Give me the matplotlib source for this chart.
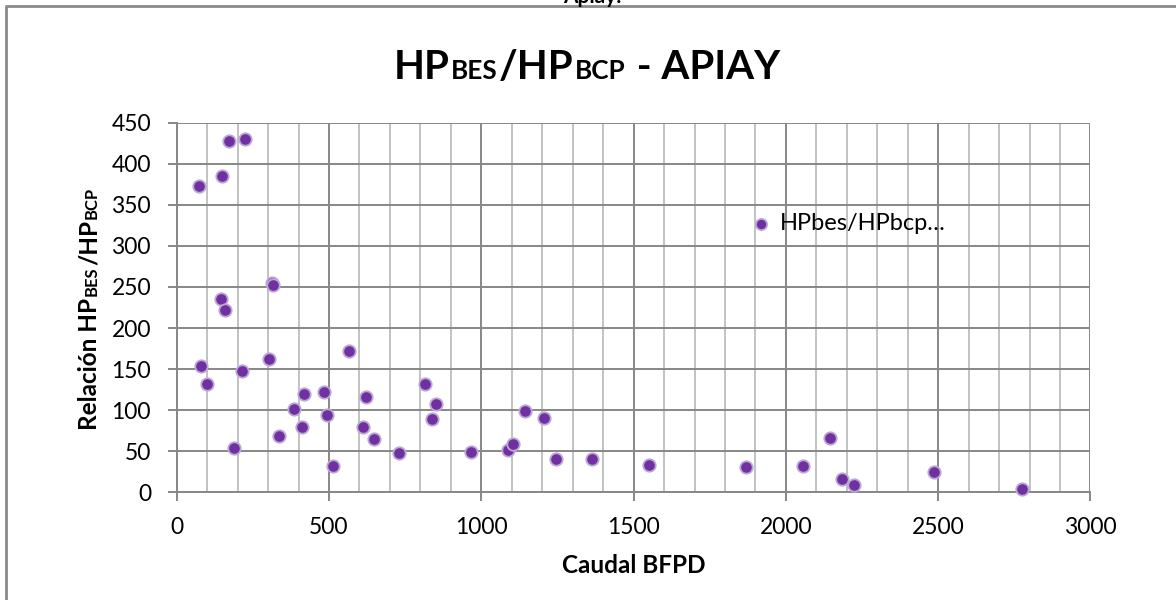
import matplotlib
matplotlib.use("Agg")
import matplotlib.pyplot as plt
from matplotlib.lines import Line2D
from matplotlib.ticker import MultipleLocator

# Caudal (BFPD) vs. HP ratio for the Apiay wells
caudal_bfpd = [74, 147.6, 172.7, 224, 311.8, 317, 144.4, 159.6, 79.8, 99.5,
               213.3, 304, 188, 564.5, 386, 416.8, 411, 335.8, 484.5, 494.4,
               513, 620, 612.5, 648.6, 730.7, 814, 851, 837, 965, 1088.5,
               1104, 1143, 1204.6, 1245, 1364, 1551, 1869.6, 2056.7, 2144,
               2182.6, 2225, 2486.6, 2774.5]
relacion_hp = [372.6, 385, 428, 430, 254.8, 252, 235, 222.4, 154.2, 131.5,
               147.7, 162.3, 53.6, 172, 101, 119.3, 80, 68.5, 122, 94.5,
               32.4, 116, 80, 65.3, 47.8, 131.9, 107.9, 88.9, 49.5, 52,
               59.2, 98.6, 90.5, 40.2, 41, 33.2, 31.2, 32.4, 66.1,
               16.6, 9.3, 24.7, 4.4]
series_label = "HPbes/HPbcp\u2026"
x_ticks = [0, 500, 1000, 1500, 2000, 2500, 3000]
y_ticks = [0, 50, 100, 150, 200, 250, 300, 350, 400, 450]

FONT = ["Lato", "DejaVu Sans"]
plt.rcParams["font.family"] = FONT

W, H = 1176, 600
fig = plt.figure(figsize=(W / 100, H / 100), dpi=100)
fig.patch.set_facecolor("white")

ax = fig.add_axes([176.7 / W, 1 - 492.3 / H, (1090.5 - 176.7) / W, (492.3 - 122.7) / H])
ax.set_xlim(x_ticks[0], x_ticks[-1])
ax.set_ylim(y_ticks[0], y_ticks[-1])
ax.set_xticks(x_ticks)
ax.set_yticks(y_ticks)
ax.xaxis.set_minor_locator(MultipleLocator(100))

MAJOR = "#878787"
MINOR = "#c2c2c2"
ax.grid(which="major", axis="both", color=MAJOR, linewidth=1.4, zorder=0)
ax.grid(which="minor", axis="x", color=MINOR, linewidth=1.4, zorder=0)
ax.set_axisbelow(True)
for side in ("top", "right"):
    ax.spines[side].set_visible(False)
for side in ("left", "bottom"):
    ax.spines[side].set_color(MAJOR)
    ax.spines[side].set_linewidth(1.4)
ax.tick_params(which="major", direction="out", length=6.5, width=1.4,
               color=MAJOR, labelsize=16.5, labelcolor="black")
ax.tick_params(axis="x", which="major", pad=11)
ax.tick_params(axis="y", which="major", pad=12)
ax.tick_params(which="minor", length=0)

ax.scatter(caudal_bfpd, relacion_hp, s=80, c="#7030a0", edgecolors="#bba8d6",
           linewidths=1.3, zorder=3, clip_on=False, label=series_label)

leg = ax.legend(loc="center left", bbox_to_anchor=(752 / W, 1 - 224 / H),
                bbox_transform=fig.transFigure, frameon=False, fontsize=17,
                handlelength=0.8, handletextpad=0.4, borderpad=0,
                borderaxespad=0, scatterpoints=1, markerscale=0.9)

fig.canvas.draw()
renderer = fig.canvas.get_renderer()


def text_width(s, size, weight):
    t = fig.text(0, 0, s, fontsize=size, fontweight=weight, family=FONT)
    w = t.get_window_extent(renderer).width
    t.remove()
    return w


def rich_text(cx, cy, parts, weight="bold", rotation=0, gap=1.5):
    """Draw a run of text pieces with mixed sizes sharing one baseline.
    cx, cy in pixels from the top-left; centred along the run direction."""
    widths = [text_width(s, size, weight) for s, size in parts]
    total = sum(widths) + gap * (len(parts) - 1)
    pos = cx - total / 2 if rotation == 0 else cy + total / 2
    for (s, size), w in zip(parts, widths):
        if rotation == 0:
            fig.text(pos / W, 1 - cy / H, s, fontsize=size, fontweight=weight,
                     family=FONT, ha="left", va="baseline")
            pos += w + gap
        else:
            fig.text(cx / W, 1 - pos / H, s, fontsize=size, fontweight=weight,
                     family=FONT, ha="left", va="baseline", rotation=90,
                     rotation_mode="anchor")
            pos -= w + gap


# Chart title with small-cap subscripts
T, t = 29, 29 * 0.65
rich_text(587, 79, [("HP", T), ("BES", t), ("/HP", T), ("BCP", t), (" - APIAY", T)])

# Y axis title
A, a = 17.5, 17.5 * 0.68
rich_text(97, 308, [("Relación HP", A), ("BES", a), ("/HP", A), ("BCP", a)], rotation=90)

# X axis title
fig.text(633.6 / W, 1 - 573 / H, "Caudal BFPD", fontsize=A, fontweight="bold",
         family=FONT, ha="center", va="baseline")

# Sheet caption partly hidden above the chart frame
fig.text(592 / W, 1 - 3 / H, "Apiay:", fontsize=15, fontweight="bold",
         family=FONT, ha="center", va="baseline")

# Chart-area frame (top and left edges)
fig.add_artist(Line2D([5.5 / W, 5.5 / W], [0, 1 - 6 / H], transform=fig.transFigure,
                      color="#8a8a8a", linewidth=2.0, solid_capstyle="butt"))
fig.add_artist(Line2D([4.5 / W, 1], [1 - 6 / H, 1 - 6 / H], transform=fig.transFigure,
                      color="#8a8a8a", linewidth=2.0, solid_capstyle="butt"))

fig.savefig("out.png", dpi=100, facecolor="white")
